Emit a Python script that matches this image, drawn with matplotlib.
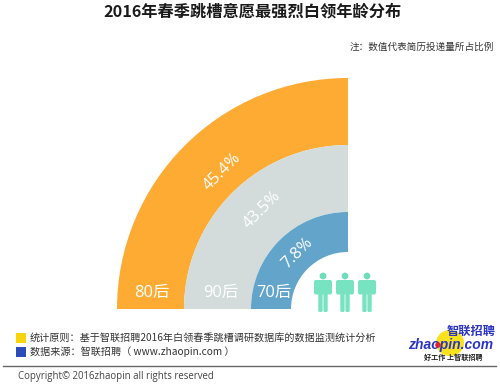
#!/usr/bin/env python3
import matplotlib
matplotlib.use("Agg")
import matplotlib.pyplot as plt
from matplotlib.patches import Wedge, Rectangle, Circle, Ellipse, FancyBboxPatch

plt.rcParams['font.family'] = ['Noto Sans CJK SC', 'DejaVu Sans']

generations = ["80后", "90后", "70后"]
shares = [45.4, 43.5, 7.8]
colors = ["#fdab33", "#d3dcdb", "#62a4ca"]
TITLE = "2016年春季跳槽意愿最强烈白领年龄分布"
NOTE = "注：数值代表简历投递量所占比例"
RULE = "统计原则：基于智联招聘2016年白领春季跳槽调研数据库的数据监测统计分析"
SOURCE = "数据来源：智联招聘（ www.zhaopin.com ）"
COPYRIGHT = "Copyright© 2016zhaopin all rights reserved"

# ring layout, in pixels of the picture
CX, CY = 348, 309
radii = [231, 164, 97, 57]
share_xy = [(222, 172), (262, 210), (297, 253)]
name_xy = [(152, 293), (221, 293), (274, 293)]
person_x = [323, 345, 367]

fig = plt.figure(figsize=(5, 3.92), dpi=100)
ax = fig.add_axes([0, 0, 1, 1])
ax.set_xlim(0, 500)
ax.set_ylim(392, 0)
ax.axis("off")

# y axis is flipped, so 180-270 deg is the upper left quarter
for i in range(3):
    ax.add_patch(Wedge((CX, CY), radii[i], 180, 270, width=radii[i] - radii[i + 1],
                       fc=colors[i], ec="none"))
    ax.text(*share_xy[i], f"{shares[i]}%", color="white", fontsize=11.8, rotation=45,
            ha="center", va="center", family=["Open Sans", "DejaVu Sans"])
    ax.text(*name_xy[i], generations[i], color="white", fontsize=11.8,
            ha="center", va="center", family=["Open Sans", "Noto Sans CJK SC"])

# the three little people
for x in person_x:
    c = "#78e3c0"
    ax.add_patch(Circle((x, 276), 3.4, fc="#6fdcbb", ec="none"))
    ax.add_patch(FancyBboxPatch((x - 9, 280), 18, 14.5, boxstyle="round,pad=0,rounding_size=2",
                                fc=c, ec="none"))
    # gaps between arms and body
    ax.add_patch(Rectangle((x - 5.4, 284), 0.7, 11, fc="#c8f2e4", ec="none"))
    ax.add_patch(Rectangle((x + 4.7, 284), 0.7, 11, fc="#c8f2e4", ec="none"))
    ax.add_patch(FancyBboxPatch((x - 4.7, 292), 4.3, 20, boxstyle="round,pad=0,rounding_size=1.5",
                                fc=c, ec="none"))
    ax.add_patch(FancyBboxPatch((x + 0.4, 292), 4.3, 20, boxstyle="round,pad=0,rounding_size=1.5",
                                fc=c, ec="none"))

ax.text(252, 12, TITLE, fontsize=11.7, ha="center", va="center", color="#1a1a1a", fontweight="bold")
ax.text(494, 47, NOTE, fontsize=6.9, ha="right", va="center", color="#333333")

# footer
ax.add_patch(Rectangle((16, 333), 10, 9.5, fc="#f7d40e", ec="none"))
ax.add_patch(Rectangle((16, 347), 10, 9.5, fc="#2a4cb8", ec="none"))
ax.text(30, 338, RULE, fontsize=7.27, ha="left", va="center", color="#333333")
ax.text(30, 352, SOURCE, fontsize=7.27, ha="left", va="center", color="#333333")
ax.plot([3, 496], [366, 366], color="#666666", lw=1)
ax.text(18, 377, COPYRIGHT, fontsize=6.9, ha="left", va="center", color="#444444",
        family=["Open Sans", "DejaVu Sans"])

# logo
ax.add_patch(Ellipse((450, 343), 28, 26, fc="#f9e11e", ec="none"))
ax.text(496, 331, "智联招聘", fontsize=8.8, color="#2b35c4", ha="right", va="center",
        style="italic", fontweight="bold")
ax.text(451, 345.5, "zhaopin.com", fontsize=10, color="#2b35c4", ha="center", va="center",
        style="italic", fontweight="bold", family=["Liberation Sans", "DejaVu Sans"])
ax.add_patch(Circle((438, 345), 2.8, fc="#d8262c", ec="none", zorder=5))
ax.text(453, 357, "好工作 上智联招聘", fontsize=5.1, color="#222222", ha="center", va="center",
        style="italic", fontweight="bold")

fig.savefig("out.png", dpi=100)
